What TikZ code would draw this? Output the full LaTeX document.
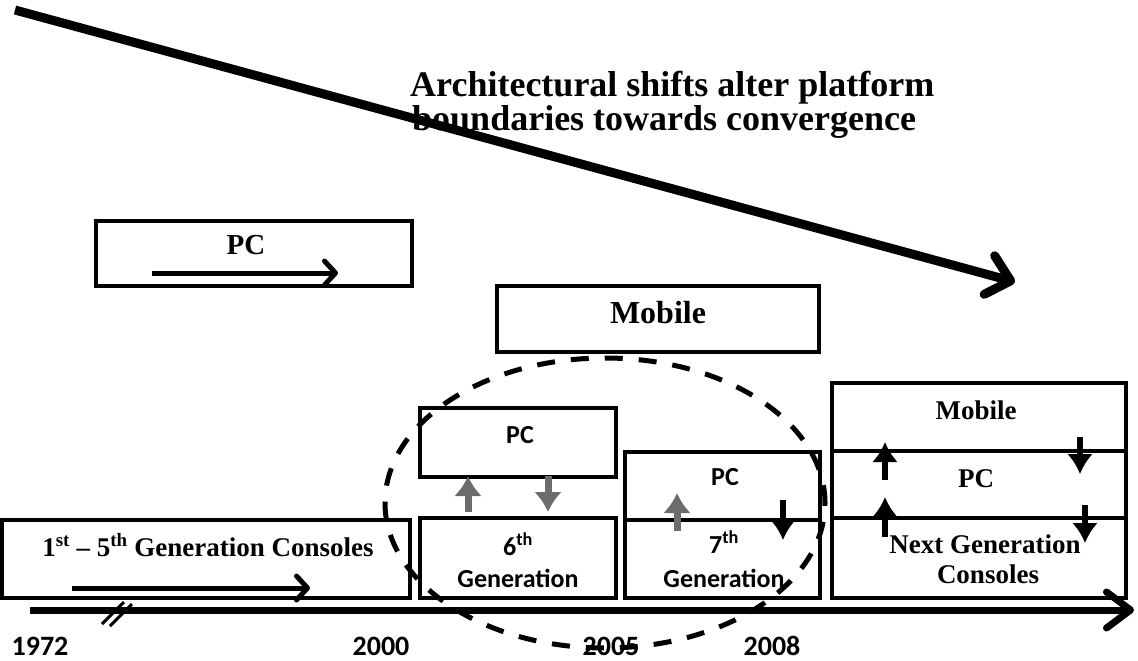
\documentclass[tikz,border=0pt]{standalone}
\usepackage{fontspec}
\setmainfont{Liberation Serif}
\newfontfamily\calib{Carlito}
\usetikzlibrary{arrows.meta}

\begin{document}
\begin{tikzpicture}[x=1pt,y=-1pt,
  box/.style={draw, line width=4pt, inner sep=0pt},
  serif/.style={font=\fontsize{27}{30}\selectfont\bfseries, anchor=base, inner sep=0pt},
  headline/.style={font=\fontsize{36}{34}\selectfont\bfseries, anchor=base west, inner sep=0pt},
  sans/.style={font=\calib\fontsize{26}{31}\selectfont\bfseries, anchor=base, inner sep=0pt},
  year/.style={font=\calib\fontsize{28}{30}\selectfont\bfseries, anchor=base, inner sep=0pt},
  flow/.style={line width=5pt, -{Straight Barb[length=11pt,width=24pt,round]}},
  blk/.style={line width=6pt, -{Latex[length=20pt,width=26pt]}},
  grey/.style={draw=gray!85!black, fill=gray, line width=7pt, -{Latex[length=20pt,width=28pt]}},
]
\useasboundingbox (0,0) rectangle (1138,661);

% platform boxes
\node[box, minimum width=316pt, minimum height=65pt] (pcA)  at (254,253.5) {};
\node[box, minimum width=322pt, minimum height=66pt] (mobA) at (658,319) {};
\node[box, minimum width=408pt, minimum height=78pt] (genA) at (206,559) {};
\node[box, minimum width=196pt, minimum height=69pt] (pcB)  at (518,442.5) {};
\node[box, minimum width=196pt, minimum height=80pt] (genB) at (518,558) {};
\node[box, minimum width=195pt, minimum height=68pt] (pcC)  at (722.5,486) {};
\node[box, minimum width=195pt, minimum height=78pt] (genC) at (722.5,559) {};
\node[box, minimum width=294pt, minimum height=68pt] (mobD) at (979,417) {};
\node[box, minimum width=294pt, minimum height=67pt] (pcD)  at (979,484.5) {};
\node[box, minimum width=294pt, minimum height=80pt] (conD) at (979,558) {};

% labels
\node[headline] (title1) at (410,96) {Architectural shifts alter platform};
\node[headline] (title2) at (412,130) {boundaries towards convergence};
\node[serif, font=\fontsize{29}{30}\selectfont\bfseries] (pcAtxt)  at (246,254) {PC};
\node[serif, font=\fontsize{32}{30}\selectfont\bfseries] (mobAtxt) at (658,323) {Mobile};
\node[serif] (genAtxt) at (208,556) {1\textsuperscript{st} -- 5\textsuperscript{th} Generation Consoles};
\node[sans]  (pcBtxt)  at (520,443) {PC};
\node[sans]  (genBtxt1) at (518,555) {6\textsuperscript{th}};
\node[sans]  (genBtxt2) at (518,587) {Generation};
\node[sans]  (pcCtxt)  at (725,485) {PC};
\node[sans]  (genCtxt1) at (724,553) {7\textsuperscript{th}};
\node[sans]  (genCtxt2) at (724,587) {Generation};
\node[serif] (mobDtxt) at (976,419) {Mobile};
\node[serif] (pcDtxt)  at (976,487) {PC};
\node[serif] (conDtxt1) at (985,553) {Next Generation};
\node[serif] (conDtxt2) at (988,583) {Consoles};

% years
\node[year] (y1972) at (40,655) {1972};
\node[year] (y2000) at (381,655) {2000};
\node[year] (y2005) at (611,655) {2005};
\node[year] (y2008) at (772,655) {2008};

% timeline with break marks
\coordinate (tlStart) at (30,610);
\coordinate (tlEnd) at (1134,610);
\draw[line width=7pt, -{Straight Barb[length=24pt,width=36pt,round]}] (tlStart) -- (tlEnd);
\coordinate (brA1) at (102,624); \coordinate (brA2) at (124,602);
\coordinate (brB1) at (110,626); \coordinate (brB2) at (132,604);
\draw[line width=3pt] (brA1) -- (brA2);
\draw[line width=3pt] (brB1) -- (brB2);

% growth arrows inside the early boxes
\coordinate (pcAfrom) at (152,273); \coordinate (pcAto) at (338,273);
\draw[flow] (pcAfrom) -- (pcAto);
\coordinate (genAfrom) at (72,588); \coordinate (genAto) at (310,588);
\draw[flow] (genAfrom) -- (genAto);

% convergence arrow
\coordinate (convFrom) at (15,10); \coordinate (convTo) at (1015,282);
\draw[line width=9pt, -{Straight Barb[length=22pt,width=40pt,round]}] (convFrom) -- (convTo);

% interaction arrows, 6th generation
\coordinate (b1s) at (468,512); \coordinate (b1e) at (468,476);
\draw[grey] (b1s) -- (b1e);
\coordinate (b2s) at (548,476); \coordinate (b2e) at (548,512);
\draw[grey] (b2s) -- (b2e);

% interaction arrows, 7th generation
\coordinate (c1s) at (677,531); \coordinate (c1e) at (677,493);
\draw[grey] (c1s) -- (c1e);
\coordinate (c2s) at (783,500); \coordinate (c2e) at (783,540);
\draw[blk] (c2s) -- (c2e);

% interaction arrows, next generation
\coordinate (d1s) at (885,480); \coordinate (d1e) at (885,442);
\draw[blk] (d1s) -- (d1e);
\coordinate (d2s) at (1080,437); \coordinate (d2e) at (1080,474);
\draw[blk] (d2s) -- (d2e);
\coordinate (d3s) at (885,537); \coordinate (d3e) at (885,497);
\draw[blk] (d3s) -- (d3e);
\coordinate (d4s) at (1085,505); \coordinate (d4e) at (1085,543);
\draw[blk] (d4s) -- (d4e);

% convergence zone
\coordinate (zone) at (605,503);
\draw[line width=5pt, dash pattern=on 18pt off 16pt] (zone) ellipse [x radius=220pt, y radius=145pt];
\end{tikzpicture}
\end{document}
